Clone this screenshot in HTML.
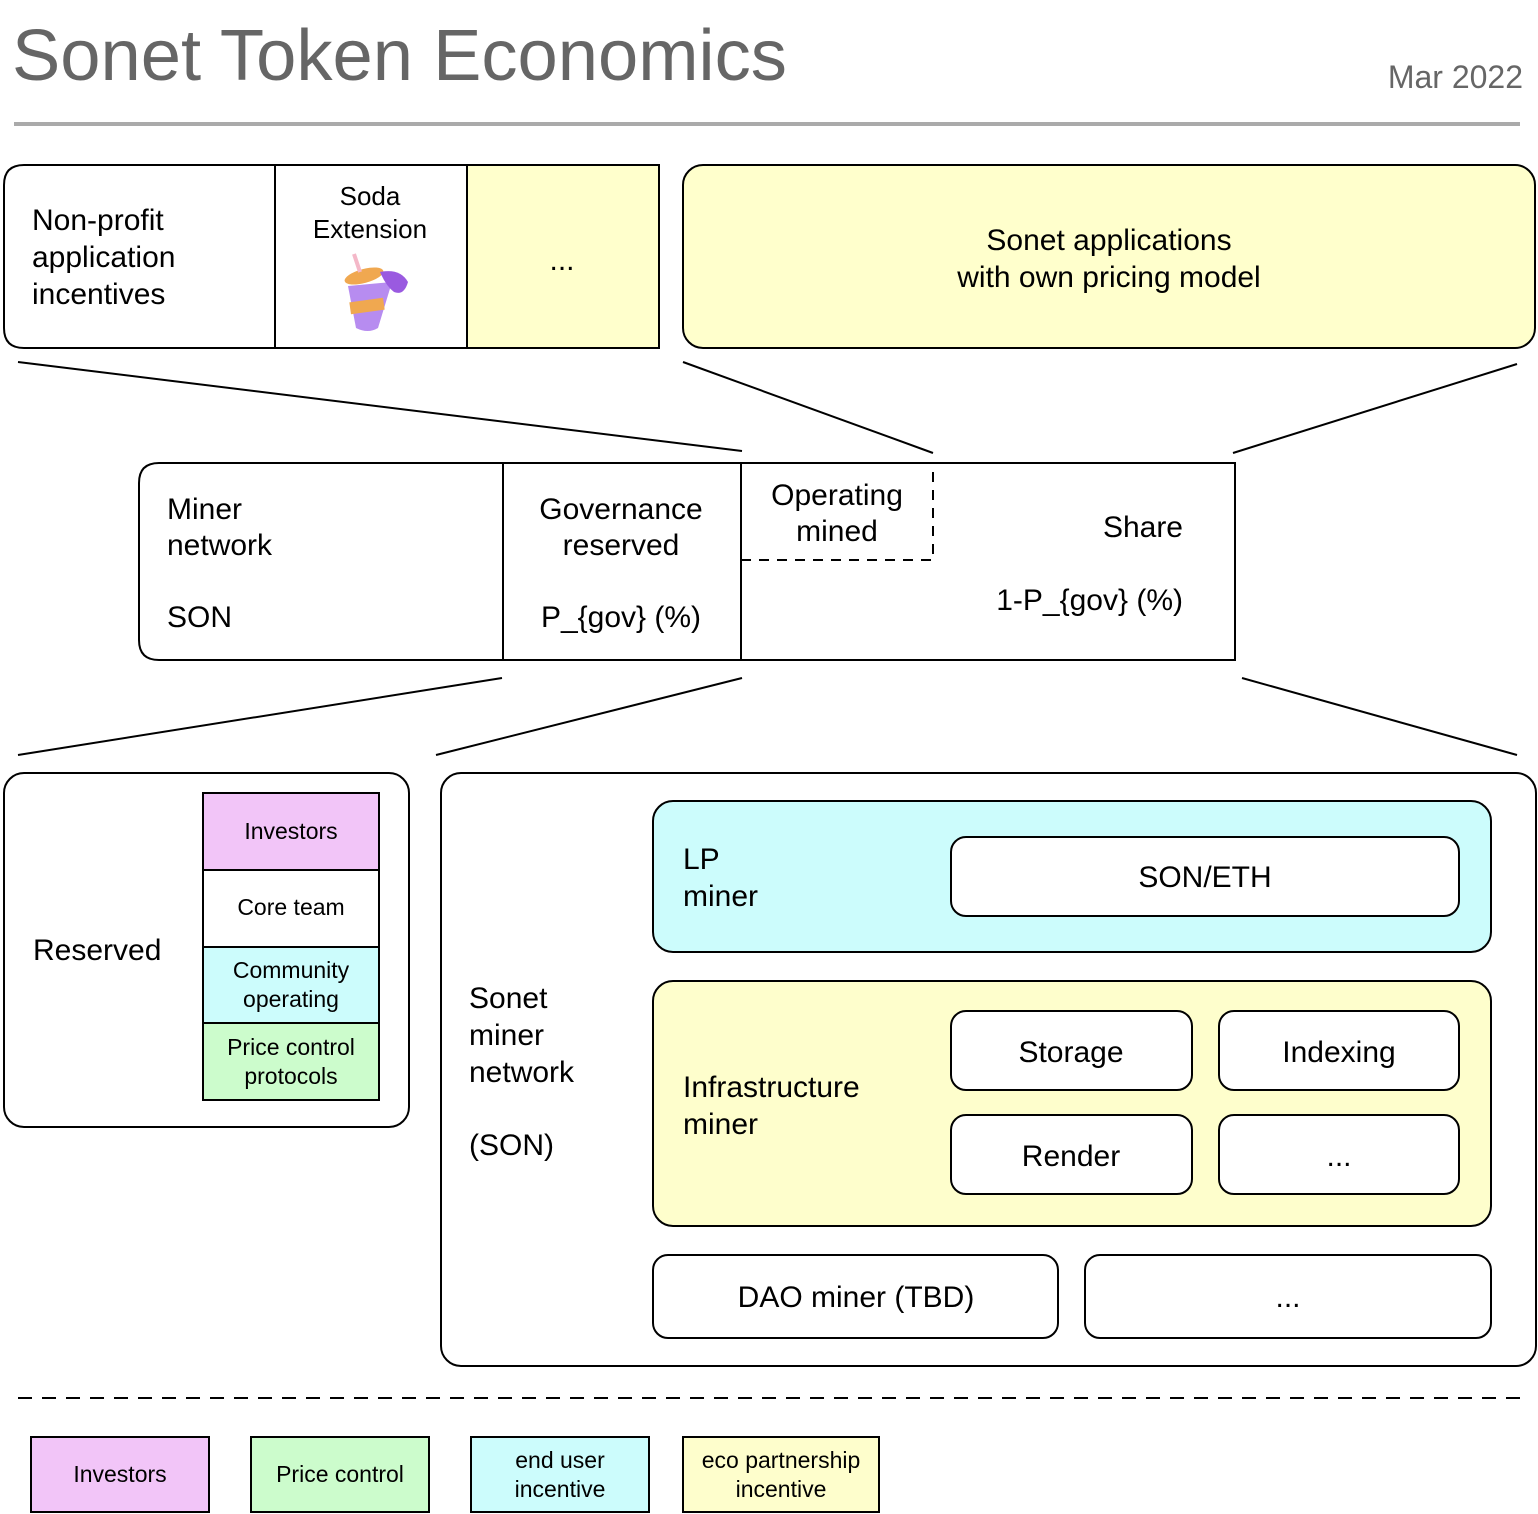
<!DOCTYPE html>
<html><head><meta charset="utf-8"><style>
html,body{margin:0;padding:0;background:#fff}
svg{display:block}
text{font-family:"Liberation Sans",Arial,sans-serif;fill:#000}
</style></head><body>
<svg width="1538" height="1514" viewBox="0 0 1538 1514" xmlns="http://www.w3.org/2000/svg">
<g stroke="#000" stroke-width="2" fill="none">
</g>
<text x="12" y="80" font-size="72" style="fill:#666" textLength="775" lengthAdjust="spacingAndGlyphs">Sonet Token Economics</text>
<text x="1523" y="88" font-size="32" text-anchor="end" style="fill:#666">Mar 2022</text>
<line x1="14" y1="124" x2="1520" y2="124" stroke="#aaa" stroke-width="4"/>

<!-- top left box -->
<rect x="467" y="165" width="192" height="183" fill="#ffffcc"/>
<path d="M24 165 H659 V348 H24 Q4 348 4 328 V185 Q4 165 24 165 Z" fill="none" stroke="#000" stroke-width="2"/>
<line x1="275" y1="165" x2="275" y2="348" stroke="#000" stroke-width="2"/>
<line x1="467" y1="165" x2="467" y2="348" stroke="#000" stroke-width="2"/>
<text font-size="30"><tspan x="32" y="230">Non-profit</tspan><tspan x="32" y="267">application</tspan><tspan x="32" y="304">incentives</tspan></text>
<text font-size="26" text-anchor="middle"><tspan x="370" y="205">Soda</tspan><tspan x="370" y="238">Extension</tspan></text>
<text x="562" y="270" font-size="30" text-anchor="middle">...</text>
<!-- soda icon -->
<g>
<path d="M348 286 L392 282 L378 328 Q368 334 356 328 Z" fill="#b78cf0"/>
<rect x="350" y="300" width="34" height="12" fill="#f0a850" transform="rotate(-8 367 306)"/>
<ellipse cx="364" cy="276" rx="20" ry="7" fill="#f0a850" transform="rotate(-15 364 276)"/>
<path d="M380 272 Q400 268 408 282 Q404 296 394 292 Q386 286 380 272Z" fill="#9a5ae0"/>
<line x1="360" y1="272" x2="354" y2="254" stroke="#f4b8c8" stroke-width="4"/>
</g>

<!-- top right box -->
<rect x="683" y="165" width="852" height="183" rx="20" fill="#ffffcc" stroke="#000" stroke-width="2"/>
<text font-size="30" text-anchor="middle"><tspan x="1109" y="250">Sonet applications</tspan><tspan x="1109" y="287">with own pricing model</tspan></text>

<g stroke="#000" stroke-width="2">
<line x1="18" y1="362" x2="742" y2="451"/>
<line x1="683" y1="362" x2="933" y2="453"/>
<line x1="1517" y1="364" x2="1233" y2="453"/>
<line x1="502" y1="678" x2="18" y2="755"/>
<line x1="742" y1="678" x2="436" y2="755"/>
<line x1="1242" y1="678" x2="1517" y2="755"/>
</g>

<!-- middle box -->
<path d="M159 463 H1235 V660 H159 Q139 660 139 640 V483 Q139 463 159 463 Z" fill="none" stroke="#000" stroke-width="2"/>
<line x1="503" y1="463" x2="503" y2="660" stroke="#000" stroke-width="2"/>
<line x1="741" y1="463" x2="741" y2="660" stroke="#000" stroke-width="2"/>
<path d="M741 560 H933 V463" fill="none" stroke="#000" stroke-width="2" stroke-dasharray="10 8"/>
<text font-size="30"><tspan x="167" y="519">Miner</tspan><tspan x="167" y="555">network</tspan><tspan x="167" y="627">SON</tspan></text>
<text font-size="30" text-anchor="middle"><tspan x="621" y="519">Governance</tspan><tspan x="621" y="555">reserved</tspan><tspan x="621" y="627">P_{gov} (%)</tspan></text>
<text font-size="30" text-anchor="middle"><tspan x="837" y="505">Operating</tspan><tspan x="837" y="541">mined</tspan></text>
<text font-size="30" text-anchor="end"><tspan x="1183" y="537">Share</tspan><tspan x="1183" y="610">1-P_{gov} (%)</tspan></text>

<!-- reserved -->
<rect x="4" y="773" width="405" height="354" rx="20" fill="#fff" stroke="#000" stroke-width="2"/>
<text x="33" y="960" font-size="30">Reserved</text>
<rect x="203" y="793" width="176" height="77" fill="#f2c5f8" stroke="#000" stroke-width="2"/>
<rect x="203" y="870" width="176" height="77" fill="#fff" stroke="#000" stroke-width="2"/>
<rect x="203" y="947" width="176" height="76" fill="#ccfcfc" stroke="#000" stroke-width="2"/>
<rect x="203" y="1023" width="176" height="77" fill="#ccfccc" stroke="#000" stroke-width="2"/>
<g font-size="23" text-anchor="middle">
<text x="291" y="839">Investors</text>
<text x="291" y="915">Core team</text>
<text><tspan x="291" y="978">Community</tspan><tspan x="291" y="1007">operating</tspan></text>
<text><tspan x="291" y="1055">Price control</tspan><tspan x="291" y="1084">protocols</tspan></text>
</g>

<!-- big box -->
<rect x="441" y="773" width="1095" height="593" rx="20" fill="#fff" stroke="#000" stroke-width="2"/>
<text font-size="30"><tspan x="469" y="1008">Sonet</tspan><tspan x="469" y="1045">miner</tspan><tspan x="469" y="1082">network</tspan><tspan x="469" y="1155">(SON)</tspan></text>
<rect x="653" y="801" width="838" height="151" rx="20" fill="#ccfcfc" stroke="#000" stroke-width="2"/>
<text font-size="30"><tspan x="683" y="869">LP</tspan><tspan x="683" y="906">miner</tspan></text>
<rect x="951" y="837" width="508" height="79" rx="15" fill="#fff" stroke="#000" stroke-width="2"/>
<text x="1205" y="887" font-size="30" text-anchor="middle">SON/ETH</text>

<rect x="653" y="981" width="838" height="245" rx="20" fill="#fefecc" stroke="#000" stroke-width="2"/>
<text font-size="30"><tspan x="683" y="1097">Infrastructure</tspan><tspan x="683" y="1134">miner</tspan></text>
<g fill="#fff" stroke="#000" stroke-width="2">
<rect x="951" y="1011" width="241" height="79" rx="15"/>
<rect x="1219" y="1011" width="240" height="79" rx="15"/>
<rect x="951" y="1115" width="241" height="79" rx="15"/>
<rect x="1219" y="1115" width="240" height="79" rx="15"/>
<rect x="653" y="1255" width="405" height="83" rx="15"/>
<rect x="1085" y="1255" width="406" height="83" rx="15"/>
</g>
<g font-size="30" text-anchor="middle">
<text x="1071" y="1062">Storage</text>
<text x="1339" y="1062">Indexing</text>
<text x="1071" y="1166">Render</text>
<text x="1339" y="1166">...</text>
<text x="856" y="1307">DAO miner (TBD)</text>
<text x="1288" y="1307">...</text>
</g>

<line x1="18" y1="1398" x2="1520" y2="1398" stroke="#000" stroke-width="2" stroke-dasharray="14 10"/>

<rect x="31" y="1437" width="178" height="75" fill="#f2c5f8" stroke="#000" stroke-width="2"/>
<rect x="251" y="1437" width="178" height="75" fill="#ccfccc" stroke="#000" stroke-width="2"/>
<rect x="471" y="1437" width="178" height="75" fill="#ccfcfc" stroke="#000" stroke-width="2"/>
<rect x="683" y="1437" width="196" height="75" fill="#fefecc" stroke="#000" stroke-width="2"/>
<g font-size="23" text-anchor="middle">
<text x="120" y="1482">Investors</text>
<text x="340" y="1482">Price control</text>
<text><tspan x="560" y="1468">end user</tspan><tspan x="560" y="1497">incentive</tspan></text>
<text><tspan x="781" y="1468">eco partnership</tspan><tspan x="781" y="1497">incentive</tspan></text>
</g>
</svg>
</body></html>
